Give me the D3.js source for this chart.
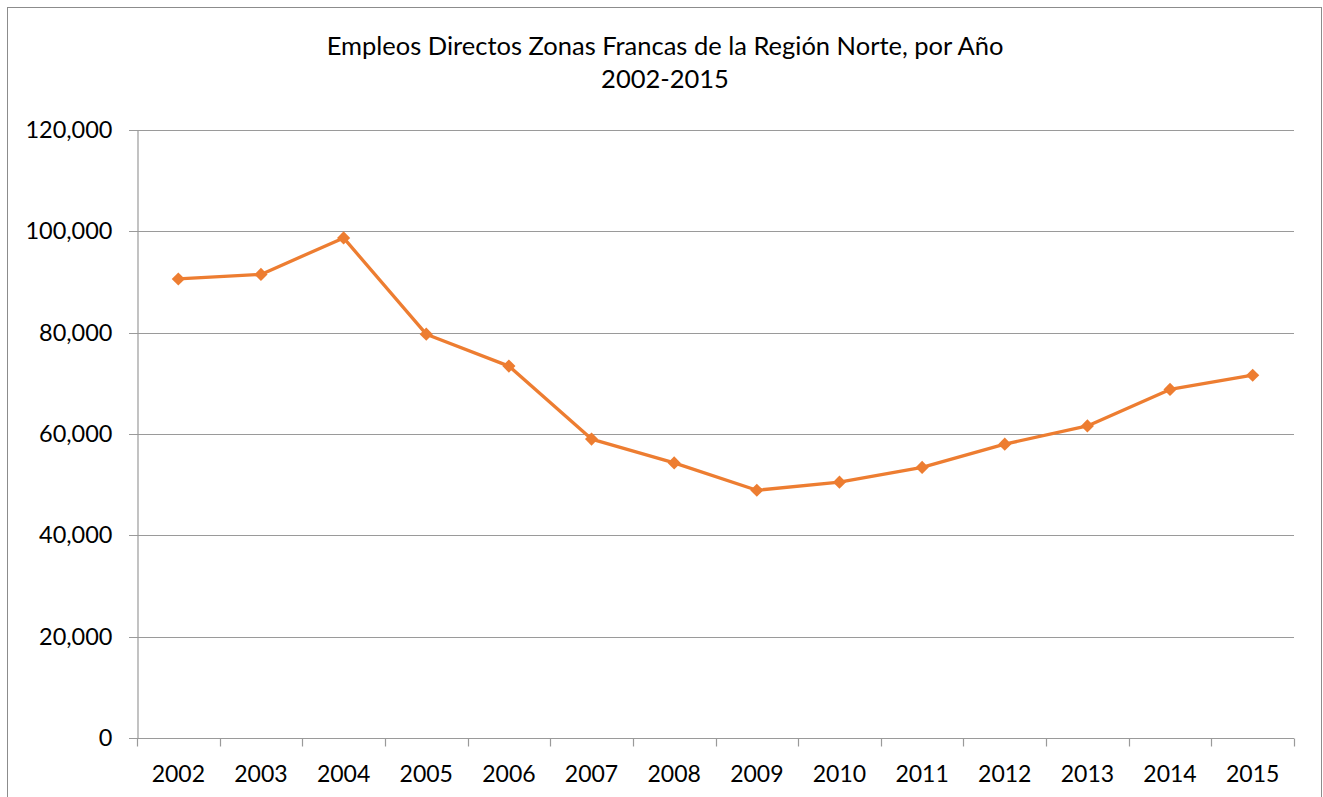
<!DOCTYPE html>
<html>
<head>
<meta charset="utf-8">
<script src="https://cdn.jsdelivr.net/npm/d3@7"></script>
<style>
  body { margin: 0; background: #fff; }
  svg { display: block; font-family: Lato, "Open Sans", sans-serif; }
</style>
</head>
<body>
<script>
// datos del gráfico
const anios = ["2002", "2003", "2004", "2005", "2006", "2007", "2008", "2009", "2010", "2011", "2012", "2013", "2014", "2015"];
const empleos = [90600, 91500, 98700, 79700, 73400, 59000, 54300, 48900, 50500, 53400, 58000, 61600, 68800, 71600];
const ticksY = [0, 20000, 40000, 60000, 80000, 100000, 120000];

const width = 1323;
const height = 797;
const margin = { top: 130, right: 29, bottom: 59, left: 137 };

const svg = d3.select("body").append("svg")
  .attr("width", width)
  .attr("height", height);

// borde exterior
svg.append("rect")
  .attr("x", 7.5).attr("y", 7.5)
  .attr("width", 1314).attr("height", 800)
  .attr("fill", "none")
  .attr("stroke", "#8c8c8c")
  .attr("stroke-width", 1);

// titulo
const titulo = svg.append("text")
  .attr("text-anchor", "middle")
  .attr("font-size", 25.5)
  .attr("fill", "#000");
titulo.append("tspan").attr("x", 665).attr("y", 55)
  .text("Empleos Directos Zonas Francas de la Región Norte, por Año");
titulo.append("tspan").attr("x", 665).attr("y", 88).text("2002-2015");

const x = d3.scaleBand()
  .domain(anios)
  .range([margin.left, width - margin.right]);

const y = d3.scaleLinear()
  .domain([0, 120000])
  .range([height - margin.bottom, margin.top]);

// lineas de la cuadricula
svg.append("g")
  .selectAll("line")
  .data(ticksY)
  .enter()
  .append("line")
  .attr("x1", margin.left - 8)
  .attr("x2", width - margin.right)
  .attr("y1", d => Math.round(y(d)) + 0.5)
  .attr("y2", d => Math.round(y(d)) + 0.5)
  .attr("stroke", "#9a9a9a")
  .attr("stroke-width", 1.2);

// eje Y
const ejeY = svg.append("g")
  .attr("transform", `translate(${margin.left + 0.5},0)`)
  .call(d3.axisLeft(y).tickValues(ticksY).tickSize(0).tickPadding(25)
    .tickFormat(d3.format(",")));
ejeY.select(".domain").attr("stroke", "#9a9a9a").attr("stroke-width", 1.2);
ejeY.selectAll("text").attr("font-size", 23.5).attr("fill", "#000")
  .attr("font-family", "Lato, 'Open Sans', sans-serif");

// eje X con marcas entre categorias
const ejeX = svg.append("g")
  .attr("transform", `translate(0,${Math.round(y(0)) + 0.5})`);
ejeX.append("g")
  .selectAll("line")
  .data(anios.concat(["fin"]))
  .enter()
  .append("line")
  .attr("x1", (d, i) => Math.round(margin.left + i * x.bandwidth()) + 0.5)
  .attr("x2", (d, i) => Math.round(margin.left + i * x.bandwidth()) + 0.5)
  .attr("y1", 0).attr("y2", 8)
  .attr("stroke", "#9a9a9a").attr("stroke-width", 1.2);
ejeX.append("g")
  .selectAll("text")
  .data(anios)
  .enter()
  .append("text")
  .attr("x", d => x(d) + x.bandwidth() / 2)
  .attr("y", 43)
  .attr("text-anchor", "middle")
  .attr("font-size", 23)
  .attr("fill", "#000")
  .text(d => d);

// serie
const puntos = anios.map((a, i) => [x(a) + x.bandwidth() / 2, y(empleos[i])]);
svg.append("path")
  .datum(puntos)
  .attr("d", d3.line())
  .attr("fill", "none")
  .attr("stroke", "#ED7D31")
  .attr("stroke-width", 3.3)
  .attr("stroke-linejoin", "round");

svg.append("g")
  .selectAll("path")
  .data(puntos)
  .enter()
  .append("path")
  .attr("transform", d => `translate(${d[0]},${d[1]})`)
  .attr("d", d3.symbol().type(d3.symbolDiamond2).size(110))
  .attr("fill", "#ED7D31");
</script>
</body>
</html>
